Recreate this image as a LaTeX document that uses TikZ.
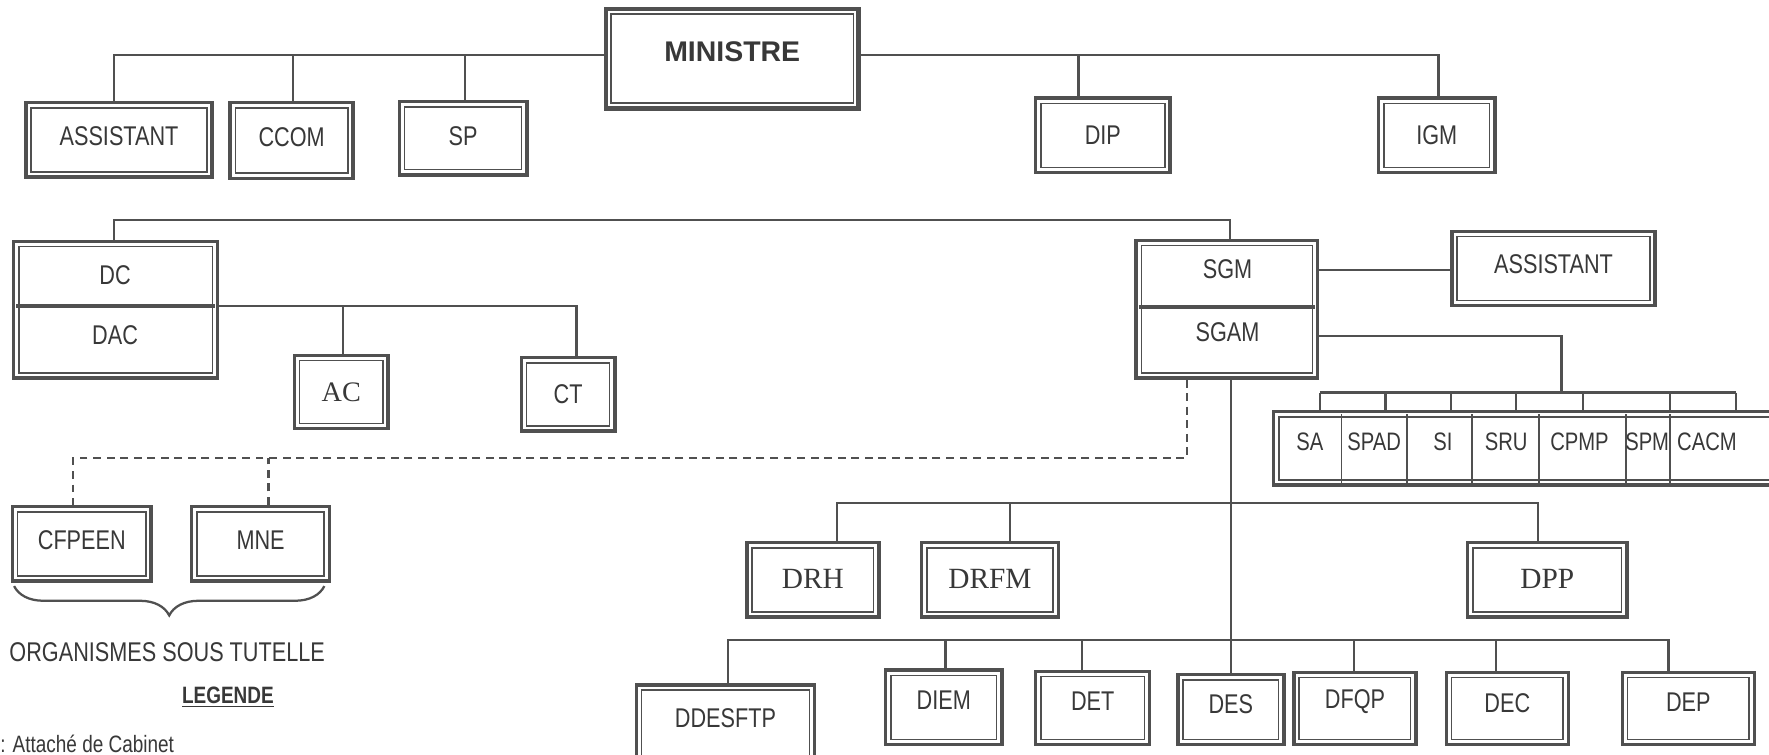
\documentclass[tikz,border=0pt]{standalone}
\usepackage{fontspec}
\setmainfont{Liberation Sans}[FakeStretch=0.8]
\newfontfamily\minfont{Liberation Sans}
\newfontfamily\serf{Liberation Serif}
\usetikzlibrary{fit,decorations.pathreplacing}
\definecolor{lc}{HTML}{505050}
\definecolor{tc}{HTML}{383838}
\tikzset{
  box/.style={draw=lc, line width=1.5pt, inner sep=0pt,
    path picture={\draw[lc,line width=0.7pt]
      ([shift={(2.3pt,-2.3pt)}]path picture bounding box.north west) rectangle
      ([shift={(-2.3pt,2.3pt)}]path picture bounding box.south east);}},
  conn/.style={draw=lc, line width=1pt},
  dconn/.style={draw=lc, line width=1pt, dash pattern=on 3.5pt off 2.5pt},
  lbl/.style={text=tc, inner sep=0pt, font=\fontsize{12}{14}\selectfont},
  serlbl/.style={text=tc, inner sep=0pt, font=\serf\fontsize{13}{15}\selectfont},
  svclbl/.style={text=tc, inner sep=0pt, font=\fontsize{11.2}{13}\selectfont},
  divider/.style={draw=lc, line width=1.8pt},
}
% box with its label: fit corners, name, label style, text
\newcommand\obox[4]{%
  \node[box, fit={#1}] (#2) {};
  \node[lbl, yshift=1pt, #3] (#2-t) at (#2.center) {#4};}
\begin{document}
\begin{tikzpicture}[x=0.5pt,y=-0.5pt]
\fill[white] (0,0) rectangle (1568,669);
\useasboundingbox (0,0) rectangle (1568,669);

% ---- top row
\node[box, line width=2pt, fit={(537,8) (761,96)}] (ministre) {};
\node[lbl, font=\minfont\bfseries\fontsize{12.6}{14}\selectfont] (ministre-t) at (649,46) {MINISTRE};
\obox{(23,91) (188,157)}{assist1}{yshift=0.5pt}{ASSISTANT}
\obox{(204,91) (313,158)}{ccom}{yshift=0.5pt}{CCOM}
\obox{(354,90) (467,155)}{sp}{}{SP}
\obox{(918,87) (1037,153)}{dip}{yshift=-1pt}{DIP}
\obox{(1222,87) (1325,153)}{igm}{yshift=-1pt}{IGM}

\draw[conn] ([yshift=1.5pt]ministre.west) -| ([xshift=-2.25pt]assist1.north);
\draw[conn] ([yshift=1.5pt]ministre.west) -| ([xshift=0.75pt]ccom.north);
\draw[conn] ([yshift=1.5pt]ministre.west) -| ([xshift=0.75pt]sp.north);
\draw[conn] ([yshift=1.5pt]ministre.east) -| ([xshift=-10.75pt]dip.north);
\draw[conn] ([yshift=1.5pt]ministre.east) -| ([xshift=0.75pt]igm.north);

% ---- DC / DAC
\node[box, fit={(12,214) (193,335)}] (dcbox) {};
\draw[divider] ([xshift=2pt]dcbox.west |- 0,271) -- ([xshift=-2pt]dcbox.east |- 0,271);
\node[lbl] (dc) at (102,244) {DC};
\node[lbl] (dac) at (102,297) {DAC};
\obox{(261,315) (344,380)}{ac}{serlbl, yshift=-1pt, font=\serf\fontsize{12.5}{15}\selectfont}{AC}
\obox{(462,317) (545,382)}{ct}{yshift=-1pt}{CT}
\draw[conn] ([yshift=1.75pt]dcbox.east) -| ([xshift=0.75pt]ac.north);
\draw[conn] ([yshift=1.75pt]dcbox.east) -| ([xshift=3.75pt]ct.north);

% ---- SGM / SGAM
\node[box, fit={(1007,213) (1168,335)}] (sgmbox) {};
\draw[divider] ([xshift=2pt]sgmbox.west |- 0,272) -- ([xshift=-2pt]sgmbox.east |- 0,272);
\node[lbl] (sgm) at (1088,239) {SGM};
\node[lbl] (sgam) at (1088,294) {SGAM};
\obox{(1287,205) (1467,271)}{assist2}{yshift=1pt}{ASSISTANT}
\draw[conn] (sgmbox.east |- sgm) -- (assist2.west |- sgm);

\coordinate (bus2) at (600,195);
\draw[conn] ([xshift=-0.75pt]dcbox.north) |- (bus2) -| ([xshift=1.25pt]sgmbox.north);

% ---- services row
\node[box, fit={(1129,365) (1585,430)}] (svc) {};
\foreach \x in {1189,1247,1305,1364,1441,1480}
  \draw[lc, line width=0.8pt] (\x,367) -- (\x,428);
\node[svclbl] (sa) at (1161,392) {SA};
\node[svclbl] (spad) at (1218,392) {SPAD};
\node[svclbl] (si) at (1279,392) {SI};
\node[svclbl] (sru) at (1335,392) {SRU};
\node[svclbl] (cpmp) at (1400,392) {CPMP};
\node[svclbl] (spm) at (1460,392) {SPM};
\node[svclbl] (cacm) at (1513,392) {CACM};
\coordinate (drop) at (1384,348);
\coordinate (sbL) at (1170,348);
\coordinate (sbR) at (1539,348);
\draw[conn] ([yshift=-2pt]sgmbox.east |- sgam) -| (drop);
\draw[conn] (sbL) -- (sbR);
\foreach \x in {1170,1228,1286,1344,1403,1480,1539}
  \draw[conn] (\x,348) -- (\x,0 |- svc.north);

% ---- organismes sous tutelle
\obox{(11,449) (134,515)}{cfpeen}{yshift=0.5pt}{CFPEEN}
\obox{(170,449) (292,515)}{mne}{yshift=0.5pt}{MNE}
\coordinate (dsh) at (1052,406);
\draw[dconn] (sgmbox.south -| dsh) -- (dsh) -| ([xshift=-3.75pt]cfpeen.north);
\draw[dconn] ([xshift=3.5pt]mne.north) -- ([xshift=3.5pt]mne.north |- dsh);
\draw[lc, line width=1pt, decorate, decoration={brace, mirror, amplitude=13pt}]
  ([shift={(1.5pt,-1.5pt)}]cfpeen.south west) -- ([shift={(-3pt,-1.5pt)}]mne.south east);
\node[lbl, anchor=west] (org) at (8,578) {ORGANISMES SOUS TUTELLE};
\node[lbl, font=\bfseries\fontsize{10.5}{12}\selectfont] (leg) at (202,618) {\underline{LEGENDE}};
\node[lbl, anchor=west, font=\fontsize{10.5}{12}\selectfont] (att) at (0,659) {: Attaché de Cabinet};

% ---- directions
\obox{(662,481) (779,547)}{drh}{serlbl, yshift=-0.5pt}{DRH}
\obox{(817,481) (938,547)}{drfm}{serlbl, yshift=-0.5pt}{DRFM}
\obox{(1301,481) (1442,547)}{dpp}{serlbl, yshift=-0.5pt}{DPP}

\obox{(564,607) (722,675)}{ddesftp}{yshift=1pt}{DDESFTP}
\obox{(785,594) (888,660)}{diem}{yshift=2pt}{DIEM}
\obox{(918,595) (1019,660)}{det}{yshift=2pt}{DET}
\obox{(1044,598) (1138,660)}{des}{yshift=1.5pt}{DES}
\obox{(1147,596) (1255,660)}{dfqp}{yshift=2pt}{DFQP}
\obox{(1282,596) (1390,660)}{dec}{yshift=1.5pt}{DEC}
\obox{(1438,596) (1555,660)}{dep}{yshift=2pt}{DEP}

\draw[conn] (sgmbox.south -| des.north) -- (des.north);
\coordinate (b1) at (1091,446);
\draw[conn] ([xshift=10.75pt]drh.north) |- (b1) -| ([xshift=-4.25pt]dpp.north);
\draw[conn] ([xshift=8.75pt]drfm.north) -- ([xshift=8.75pt]drfm.north |- b1);
\coordinate (b2) at (1091,567);
\draw[conn] ([xshift=1pt]ddesftp.north) |- (b2) -| ([xshift=-8.75pt]dep.north);
\foreach \n/\s in {diem/0.75pt, det/-4.75pt, dfqp/-0.5pt, dec/-5pt}
  \draw[conn] ([xshift=\s]\n.north) -- ([xshift=\s]\n.north |- b2);
\end{tikzpicture}
\end{document}
